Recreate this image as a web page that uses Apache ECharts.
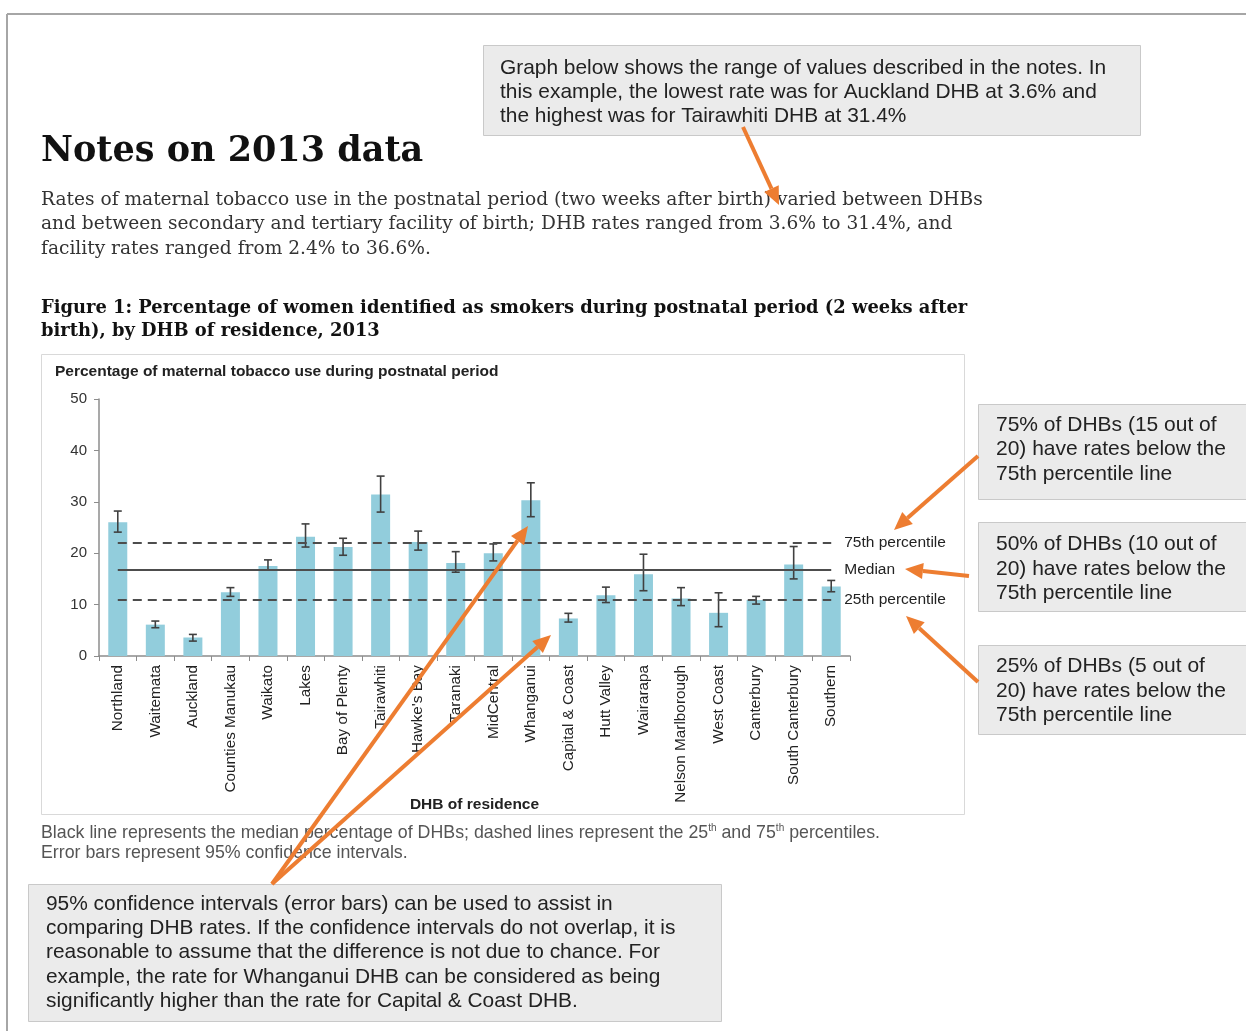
<!DOCTYPE html>
<html>
<head>
<meta charset="utf-8">
<script src="https://cdn.jsdelivr.net/npm/echarts@6/dist/echarts.min.js"></script>
<style>
  html, body { margin: 0; padding: 0; background: #fff; }
  #main { width: 1246px; height: 1031px; }
</style>
</head>
<body>
<div id="main"></div>
<script>
// DHB rates of maternal tobacco use, 2013
const dhbs = ['Northland', 'Waitemata', 'Auckland', 'Counties Manukau', 'Waikato', 'Lakes', 'Bay of Plenty', 'Tairawhiti', "Hawke's Bay", 'Taranaki', 'MidCentral', 'Whanganui', 'Capital & Coast', 'Hutt Valley', 'Wairarapa', 'Nelson Marlborough', 'West Coast', 'Canterbury', 'South Canterbury', 'Southern']
const rates = [26.0, 6.1, 3.6, 12.4, 17.5, 23.2, 21.2, 31.4, 22.2, 18.1, 20.0, 30.3, 7.3, 11.8, 15.9, 11.2, 8.4, 10.9, 17.8, 13.5]
const ciLow = [24.1, 5.5, 2.9, 11.6, 16.7, 21.2, 19.6, 28.0, 20.6, 16.3, 18.5, 27.1, 6.6, 10.4, 12.7, 9.8, 5.7, 10.1, 15.0, 12.5]
const ciHigh = [28.2, 6.8, 4.2, 13.3, 18.7, 25.7, 22.9, 35.0, 24.3, 20.3, 21.8, 33.7, 8.3, 13.4, 19.8, 13.3, 12.3, 11.6, 21.3, 14.7]
// percentile lines
const p25 = 10.9
const median = 16.8
const p75 = 22.1
// y axis
const yMin = 0
const yMax = 50
const yStep = 10

const orange = '#ed7d31'
const sans = "'Liberation Sans', Arial, sans-serif"
const serif = "'DejaVu Serif', Georgia, serif"

// line + triangle head
function arrow (x1, y1, x2, y2) {
    const a = Math.atan2(y2 - y1, x2 - x1)
    const len = 18
    const half = 8
    const bx = x2 - len * Math.cos(a)
    const by = y2 - len * Math.sin(a)
    const px = -Math.sin(a) * half
    const py = Math.cos(a) * half
    return [
        { type: 'line', z: 100, silent: true, shape: { x1, y1, x2: bx, y2: by }, style: { stroke: orange, lineWidth: 4 } },
        { type: 'polygon', z: 100, silent: true, shape: { points: [[x2, y2], [bx + px, by + py], [bx - px, by - py]] }, style: { fill: orange } }
    ]
}

function box (x, y, w, h) {
    return { type: 'rect', z: 1, silent: true, shape: { x, y, width: w, height: h }, style: { fill: '#ebebeb', stroke: '#c9c9c9', lineWidth: 1 } }
}

function text (x, y, str, font, fill, lineHeight) {
    return {
        type: 'text', z: 5, silent: true, x, y,
        style: { text: str, font, fill, lineHeight, align: 'left', verticalAlign: 'top' }
    }
}

const graphics = [
    // page frame
    { type: 'line', silent: true, shape: { x1: 7, y1: 14, x2: 1246, y2: 14 }, style: { stroke: '#a6a6a6', lineWidth: 2 } },
    { type: 'line', silent: true, shape: { x1: 7, y1: 14, x2: 7, y2: 1031 }, style: { stroke: '#a6a6a6', lineWidth: 2 } },
    // chart frame
    { type: 'rect', z: 0, silent: true, shape: { x: 41.5, y: 354.5, width: 923, height: 460 }, style: { fill: '#fff', stroke: '#d9d9d9', lineWidth: 1 } },

    text(41, 131, 'Notes on 2013 data', 'bold 35px ' + serif, '#111', 42),
    text(41, 187.5,
        'Rates of maternal tobacco use in the postnatal period (two weeks after birth) varied between DHBs\n' +
        'and between secondary and tertiary facility of birth; DHB rates ranged from 3.6% to 31.4%, and\n' +
        'facility rates ranged from 2.4% to 36.6%.',
        '18.6px ' + serif, '#333', 24.5),
    text(41, 296.5,
        'Figure 1: Percentage of women identified as smokers during postnatal period (2 weeks after\n' +
        'birth), by DHB of residence, 2013',
        'bold 17.9px ' + serif, '#111', 23),
    text(55, 362, 'Percentage of maternal tobacco use during postnatal period', 'bold 15.5px ' + sans, '#222', 20),

    // notes under the chart
    {
        type: 'text', z: 5, silent: true, x: 41, y: 823,
        style: {
            text: 'Black line represents the median percentage of DHBs; dashed lines represent the 25{s|th} and 75{s|th} percentiles.\nError bars represent 95% confidence intervals.',
            font: '17.8px ' + sans, fill: '#555', lineHeight: 20, align: 'left', verticalAlign: 'top',
            rich: { s: { fontSize: 10, fill: '#555', verticalAlign: 'top', lineHeight: 14, fontFamily: sans } }
        }
    },

    // callout boxes
    box(483.5, 45.5, 657, 90),
    text(500, 56,
        'Graph below shows the range of values described in the notes. In\n' +
        'this example, the lowest rate was for Auckland DHB at 3.6% and\n' +
        'the highest was for Tairawhiti DHB at 31.4%',
        '20.9px ' + sans, '#222', 24),
    box(978.5, 404.5, 275, 95),
    text(996, 412.5, '75% of DHBs (15 out of\n20) have rates below the\n75th percentile line', '21px ' + sans, '#222', 24.5),
    box(978.5, 522.5, 275, 89),
    text(996, 532, '50% of DHBs (10 out of\n20) have rates below the\n75th percentile line', '21px ' + sans, '#222', 24.5),
    box(978.5, 645.5, 275, 89),
    text(996, 654, '25% of DHBs (5 out of\n20) have rates below the\n75th percentile line', '21px ' + sans, '#222', 24.5),
    box(28.5, 884.5, 693, 137),
    text(46, 892,
        '95% confidence intervals (error bars) can be used to assist in\n' +
        'comparing DHB rates. If the confidence intervals do not overlap, it is\n' +
        'reasonable to assume that the difference is not due to chance. For\n' +
        'example, the rate for Whanganui DHB can be considered as being\n' +
        'significantly higher than the rate for Capital & Coast DHB.',
        '20.9px ' + sans, '#222', 24.25)
].concat(
    arrow(743, 127, 779, 205),
    arrow(978, 456, 894, 530),
    arrow(969, 576, 905, 569),
    arrow(978, 682, 906, 616),
    arrow(272, 884, 528, 526),
    arrow(272, 884, 551, 635)
)

const chart = echarts.init(document.getElementById('main'))
const option = {
    backgroundColor: '#fff',
    animation: false,
    graphic: { elements: graphics },
    grid: { left: 99, right: 396, top: 399, bottom: 375 },
    xAxis: {
        type: 'category',
        data: dhbs,
        name: 'DHB of residence',
        nameLocation: 'middle',
        nameGap: 141,
        nameMoveOverlap: false,
        nameTextStyle: { fontFamily: sans, fontWeight: 'bold', fontSize: 15.5, color: '#222' },
        axisLine: { lineStyle: { color: '#8c8c8c', width: 1.5 } },
        axisTick: { show: true, length: 5, lineStyle: { color: '#8c8c8c' } },
        axisLabel: { interval: 0, rotate: 90, margin: 9, fontFamily: sans, fontSize: 15.3, color: '#222' }
    },
    yAxis: {
        type: 'value',
        min: yMin,
        max: yMax,
        interval: yStep,
        splitLine: { show: false },
        axisLine: { show: true, lineStyle: { color: '#8c8c8c', width: 1.5 } },
        axisTick: { show: true, length: 5, lineStyle: { color: '#8c8c8c' } },
        axisLabel: { margin: 12, fontFamily: sans, fontSize: 15, color: '#333' }
    },
    series: [
        {
            type: 'bar',
            data: rates,
            barWidth: 19,
            itemStyle: { color: '#92cddc' },
            markLine: {
                silent: true,
                symbol: ['none', 'none'],
                label: { show: true, position: 'end', distance: 13, fontFamily: sans, fontSize: 15.5, color: '#222' },
                data: [
                    [{ coord: [0, p75], lineStyle: { color: '#4d4d4d', width: 2, type: [9, 6] }, label: { formatter: '75th percentile' } }, { coord: [dhbs.length - 1, p75] }],
                    [{ coord: [0, median], lineStyle: { color: '#4d4d4d', width: 2, type: 'solid' }, label: { formatter: 'Median' } }, { coord: [dhbs.length - 1, median] }],
                    [{ coord: [0, p25], lineStyle: { color: '#4d4d4d', width: 2, type: [9, 6] }, label: { formatter: '25th percentile' } }, { coord: [dhbs.length - 1, p25] }]
                ]
            }
        },
        {
            type: 'custom',
            z: 4,
            silent: true,
            data: dhbs.map((d, i) => [i, ciLow[i], ciHigh[i]]),
            encode: { x: 0, y: [1, 2] },
            renderItem (params, api) {
                const i = api.value(0)
                const lo = api.coord([i, api.value(1)])
                const hi = api.coord([i, api.value(2)])
                const w = 4
                const st = { stroke: '#404040', lineWidth: 1.6 }
                return {
                    type: 'group',
                    children: [
                        { type: 'line', shape: { x1: lo[0], y1: lo[1], x2: hi[0], y2: hi[1] }, style: st },
                        { type: 'line', shape: { x1: lo[0] - w, y1: lo[1], x2: lo[0] + w, y2: lo[1] }, style: st },
                        { type: 'line', shape: { x1: hi[0] - w, y1: hi[1], x2: hi[0] + w, y2: hi[1] }, style: st }
                    ]
                }
            }
        }
    ]
}
chart.setOption(option)
</script>
</body>
</html>
